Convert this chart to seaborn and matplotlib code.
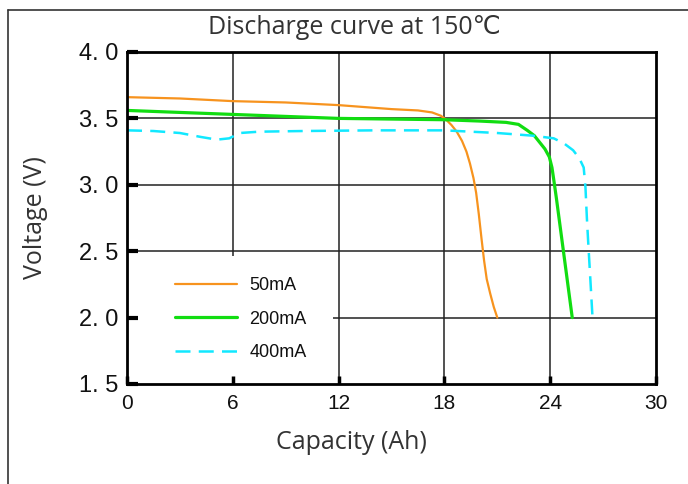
import matplotlib
matplotlib.use("Agg")
import matplotlib.pyplot as plt
from matplotlib.lines import Line2D
from matplotlib.patches import Rectangle
import seaborn as sns
import pandas as pd

cap_50 = [0, 3, 6, 9, 12, 15, 16.5, 17.3, 17.8, 18.1, 18.4, 18.7, 19.0, 19.25, 19.45, 19.65, 19.8, 19.95, 20.1, 20.25, 20.4, 20.6, 20.8, 21.0]
v_50 = [3.66, 3.65, 3.63, 3.62, 3.60, 3.57, 3.56, 3.545, 3.52, 3.49, 3.45, 3.40, 3.33, 3.25, 3.16, 3.05, 2.94, 2.78, 2.60, 2.43, 2.29, 2.18, 2.08, 2.00]

cap_200 = [0, 3, 6, 9, 12, 15, 18, 20, 21.5, 22.2, 22.7, 23.1, 23.4, 23.7, 23.95, 24.1, 24.2, 24.35, 24.6, 24.9, 25.25]
v_200 = [3.56, 3.545, 3.53, 3.515, 3.50, 3.495, 3.49, 3.48, 3.47, 3.455, 3.41, 3.37, 3.32, 3.27, 3.21, 3.13, 3.04, 2.90, 2.65, 2.35, 2.00]

cap_400 = [0, 1.5, 3, 4.2, 5.1, 5.8, 6.4, 7.5, 10, 14, 18, 21, 23, 24.2, 24.8, 25.3, 25.65, 25.9, 26.0, 26.08, 26.15, 26.25, 26.4]
v_400 = [3.41, 3.405, 3.39, 3.36, 3.34, 3.35, 3.39, 3.40, 3.405, 3.41, 3.41, 3.39, 3.37, 3.35, 3.31, 3.26, 3.20, 3.13, 2.98, 2.75, 2.58, 2.35, 2.00]

labels = ["50mA", "200mA", "400mA"]
x_ticks = [0, 6, 12, 18, 24, 30]
y_ticks = [1.5, 2.0, 2.5, 3.0, 3.5, 4.0]
y_ticklabels = ["1. 5", "2. 0", "2. 5", "3. 0", "3. 5", "4. 0"]

sns.set_theme(style="white")
plt.rcParams["font.family"] = ["Open Sans", "DejaVu Sans"]
tickfont = "Liberation Sans"

fig = plt.figure(figsize=(6.88, 4.84), dpi=100)
ax = fig.add_axes([127/688, 1-384/484, 529/688, 332/484])
ax.set_axisbelow(False)

# rejilla manual (la leyenda la tapa)
for xv in x_ticks[1:-1]:
    ax.axvline(xv, color="#222222", lw=1.1, zorder=1)
for yv in y_ticks[1:-1]:
    ax.axhline(yv, color="#222222", lw=1.1, zorder=1)
ax.add_patch(Rectangle((0, 0.018), 0.39, 0.367, transform=ax.transAxes,
                       facecolor="white", edgecolor="none", zorder=1.5))

series = [(cap_50, v_50, "#F7931E", 1.6, "-"),
          (cap_200, v_200, "#11DD11", 2.3, "-"),
          (cap_400, v_400, "#11E8FF", 1.8, (0, (6, 3.3)))]
for (cx, cv, col, lw, ls), lab in zip(series, labels):
    df = pd.DataFrame({"cap": cx, "volt": cv})
    sns.lineplot(data=df, x="cap", y="volt", ax=ax, color=col, lw=lw,
                 linestyle=ls, label=lab, sort=False, zorder=3)

ax.set_xlim(0, 30)
ax.set_ylim(1.5, 4.0)
ax.set_xticks(x_ticks)
ax.set_xticklabels([str(t) for t in x_ticks], fontfamily=tickfont, fontsize=15, color="#111111")
ax.set_yticks(y_ticks)
ax.set_yticklabels(y_ticklabels, fontfamily=tickfont, fontsize=17, color="#111111")
ax.tick_params(axis="y", direction="in", length=8, width=3, color="black", pad=6, left=True)
ax.tick_params(axis="x", direction="in", length=6, width=2.5, color="black", pad=7, bottom=True)

for sp in ax.spines.values():
    sp.set_color("black")
    sp.set_linewidth(2)
    sp.set_zorder(4)

ax.set_xlabel("Capacity (Ah)", fontsize=18, color="#333333")
ax.set_ylabel("Voltage (V)", fontsize=18, color="#333333")
ax.xaxis.set_label_coords(0.425, -0.14)
ax.yaxis.set_label_coords(-0.15, 0.5)

leg = ax.legend(loc="upper left", bbox_to_anchor=(0.091, 0.322), frameon=False,
                prop={"family": tickfont, "size": 13}, handlelength=3.4,
                handletextpad=0.7, labelspacing=0.92, borderpad=0, borderaxespad=0)
for t in leg.get_texts():
    t.set_color("#111111")
leg.set_zorder(2)

fig.text(354/688, 1-28/484, "Discharge curve at 150℃", ha="center", va="center",
         fontsize=18, color="#333333")

# marco exterior
fig.add_artist(Line2D([8/688, 8/688], [0, 1-10/484], transform=fig.transFigure, color="#333333", lw=1.2))
fig.add_artist(Line2D([8/688, 1], [1-10/484, 1-10/484], transform=fig.transFigure, color="#333333", lw=1.2))

fig.savefig("out.png", dpi=100)
